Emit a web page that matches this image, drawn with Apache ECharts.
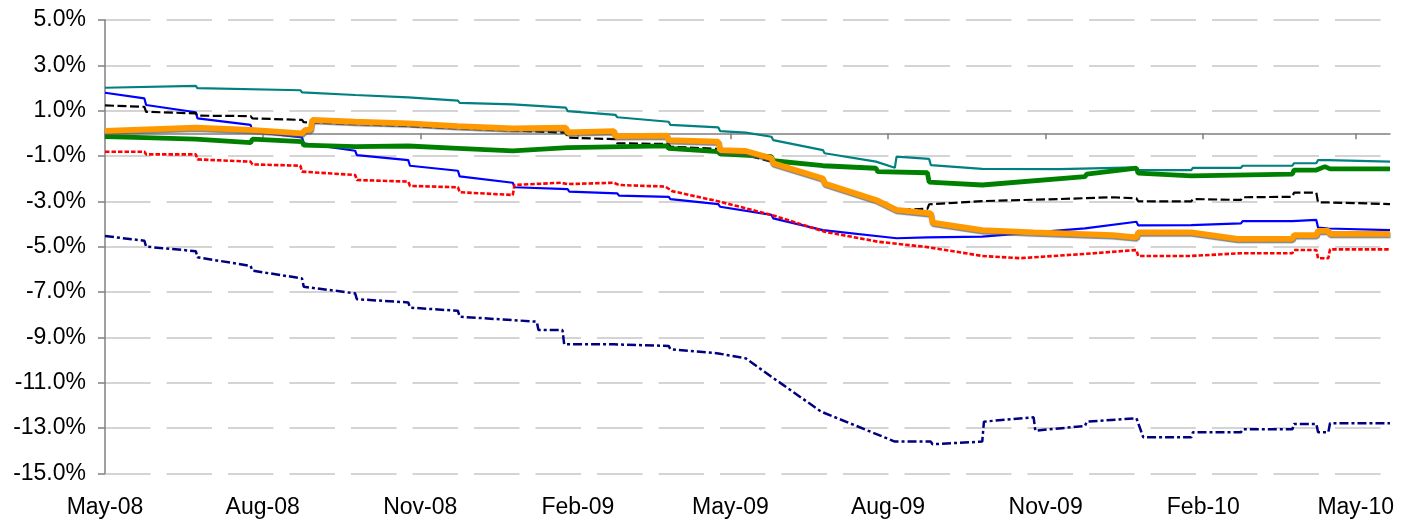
<!DOCTYPE html>
<html>
<head>
<meta charset="utf-8">
<script src="https://cdn.jsdelivr.net/npm/echarts@6/dist/echarts.min.js"></script>
<style>
  html, body { margin: 0; padding: 0; background: #fff; }
  #chart { width: 1413px; height: 522px; }
</style>
</head>
<body>
<div id="chart"></div>
<script>
// Quarterly tick positions on the date axis and their labels
const tickDates = ['2008-05-01', '2008-08-01', '2008-11-01', '2009-02-01', '2009-05-01',
                   '2009-08-01', '2009-11-01', '2010-02-01', '2010-05-01'];
const tickLabels = ['May-08', 'Aug-08', 'Nov-08', 'Feb-09', 'May-09',
                    'Aug-09', 'Nov-09', 'Feb-10', 'May-10'];
const axisStart = '2008-05-01';
const axisEnd = '2010-05-21';

// Each series: [date, value in %]
const tealLine = [
  ['2008-05-01', 2.01], ['2008-06-23', 2.09], ['2008-06-24', 1.99],
  ['2008-08-23', 1.90], ['2008-08-24', 1.81], ['2008-09-24', 1.69], ['2008-09-25', 1.65],
  ['2008-10-25', 1.59], ['2008-10-26', 1.53], ['2008-11-23', 1.44], ['2008-11-24', 1.34],
  ['2008-12-25', 1.28], ['2009-01-25', 1.13], ['2009-01-26', 0.98],
  ['2009-02-23', 0.81], ['2009-02-24', 0.71], ['2009-03-26', 0.51], ['2009-03-27', 0.37],
  ['2009-04-24', 0.26], ['2009-04-25', 0.10], ['2009-05-10', 0.03],
  ['2009-05-25', -0.15], ['2009-05-26', -0.30], ['2009-06-24', -0.74], ['2009-06-25', -0.88],
  ['2009-07-25', -1.25], ['2009-08-05', -1.52], ['2009-08-06', -1.03],
  ['2009-08-25', -1.13], ['2009-08-26', -1.40], ['2009-09-25', -1.57], ['2009-11-09', -1.58],
  ['2009-12-24', -1.50], ['2009-12-25', -1.62], ['2010-01-25', -1.62], ['2010-01-26', -1.52],
  ['2010-02-23', -1.52], ['2010-02-24', -1.43], ['2010-03-25', -1.43], ['2010-03-26', -1.32],
  ['2010-04-08', -1.32], ['2010-04-09', -1.18], ['2010-04-15', -1.18], ['2010-04-16', -1.25],
  ['2010-05-21', -1.25]
];

const blackLine = [
  ['2008-05-01', 1.23], ['2008-05-24', 1.17], ['2008-05-25', 0.95],
  ['2008-06-23', 0.88], ['2008-06-24', 0.78], ['2008-07-25', 0.76], ['2008-07-26', 0.66],
  ['2008-08-24', 0.59], ['2008-08-25', 0.49], ['2008-09-24', 0.41], ['2008-10-25', 0.32],
  ['2008-11-23', 0.22], ['2008-11-24', 0.15], ['2009-01-25', 0.03], ['2009-01-26', -0.19],
  ['2009-02-23', -0.26], ['2009-02-24', -0.44], ['2009-03-26', -0.47], ['2009-03-27', -0.59],
  ['2009-04-24', -0.69], ['2009-04-28', -0.91], ['2009-05-10', -0.96],
  ['2009-05-25', -1.25], ['2009-05-26', -1.35], ['2009-06-24', -2.06], ['2009-06-25', -2.20],
  ['2009-07-25', -2.96], ['2009-08-05', -3.38], ['2009-08-24', -3.33], ['2009-08-25', -3.13],
  ['2009-09-25', -2.99], ['2009-11-09', -2.90], ['2009-12-10', -2.82], ['2009-12-24', -2.87],
  ['2009-12-25', -3.00], ['2010-01-25', -3.00], ['2010-01-26', -2.90], ['2010-02-23', -2.94],
  ['2010-02-24', -2.82], ['2010-03-25', -2.80], ['2010-03-26', -2.62], ['2010-04-08', -2.62],
  ['2010-04-09', -3.05], ['2010-04-15', -3.05], ['2010-04-16', -3.12], ['2010-05-21', -3.12]
];

const blueLine = [
  ['2008-05-01', 1.79], ['2008-05-24', 1.54], ['2008-05-25', 1.25],
  ['2008-06-23', 0.93], ['2008-06-24', 0.66], ['2008-07-25', 0.37], ['2008-07-26', 0.07],
  ['2008-08-24', -0.18], ['2008-08-25', -0.44], ['2008-09-24', -0.77], ['2008-09-25', -0.96],
  ['2008-10-25', -1.18], ['2008-10-26', -1.43], ['2008-11-23', -1.65], ['2008-11-24', -1.90],
  ['2008-12-25', -2.18], ['2008-12-26', -2.38], ['2009-01-26', -2.46], ['2009-01-27', -2.57],
  ['2009-02-24', -2.65], ['2009-02-25', -2.75], ['2009-03-26', -2.80], ['2009-03-27', -2.90],
  ['2009-04-24', -3.12], ['2009-04-25', -3.24], ['2009-05-25', -3.60], ['2009-05-26', -3.75],
  ['2009-06-24', -4.27], ['2009-08-06', -4.63], ['2009-08-24', -4.59], ['2009-08-25', -4.63],
  ['2009-09-25', -4.56], ['2009-11-24', -4.19], ['2009-12-24', -3.90], ['2009-12-25', -4.06],
  ['2010-01-25', -4.05], ['2010-01-26', -3.97], ['2010-02-23', -3.97], ['2010-02-24', -3.87],
  ['2010-03-25', -3.87], ['2010-03-26', -3.79], ['2010-04-08', -3.82], ['2010-04-09', -4.16],
  ['2010-04-15', -4.20], ['2010-04-16', -4.27], ['2010-05-21', -4.27]
];

const redLine = [
  ['2008-05-01', -0.81], ['2008-05-24', -0.81], ['2008-05-25', -0.93],
  ['2008-06-23', -0.93], ['2008-06-24', -1.15], ['2008-07-25', -1.25], ['2008-07-26', -1.37],
  ['2008-08-23', -1.43], ['2008-08-24', -1.69], ['2008-09-24', -1.84], ['2008-09-25', -2.06],
  ['2008-10-25', -2.13], ['2008-10-26', -2.32], ['2008-11-23', -2.38], ['2008-11-24', -2.60],
  ['2008-12-25', -2.72], ['2008-12-26', -2.28], ['2009-01-22', -2.18], ['2009-01-26', -2.24],
  ['2009-02-22', -2.18], ['2009-02-25', -2.28], ['2009-03-24', -2.35], ['2009-03-28', -2.55],
  ['2009-04-25', -3.02], ['2009-05-25', -3.60], ['2009-06-25', -4.34], ['2009-07-26', -4.78],
  ['2009-08-24', -5.02], ['2009-09-25', -5.41], ['2009-10-17', -5.51], ['2009-11-24', -5.32],
  ['2009-12-24', -5.15], ['2009-12-25', -5.41], ['2010-01-25', -5.41], ['2010-01-26', -5.34],
  ['2010-02-23', -5.29], ['2010-03-25', -5.29], ['2010-03-26', -5.15], ['2010-04-08', -5.15],
  ['2010-04-09', -5.51], ['2010-04-15', -5.51], ['2010-04-16', -5.12], ['2010-05-21', -5.12]
];

const navyLine = [
  ['2008-05-01', -4.53], ['2008-05-24', -4.74], ['2008-05-25', -5.00],
  ['2008-06-23', -5.20], ['2008-06-24', -5.47], ['2008-07-25', -5.85], ['2008-07-26', -6.06],
  ['2008-08-24', -6.40], ['2008-08-25', -6.77], ['2008-09-24', -7.06], ['2008-09-25', -7.32],
  ['2008-10-25', -7.46], ['2008-10-26', -7.69], ['2008-11-23', -7.83], ['2008-11-24', -8.09],
  ['2009-01-08', -8.31], ['2009-01-09', -8.68], ['2009-01-23', -8.68], ['2009-01-24', -9.31],
  ['2009-02-22', -9.31], ['2009-02-23', -9.38], ['2009-03-26', -9.38], ['2009-03-27', -9.53],
  ['2009-04-24', -9.71], ['2009-05-10', -9.93], ['2009-05-25', -10.74], ['2009-06-23', -12.28],
  ['2009-08-05', -13.60], ['2009-08-26', -13.60], ['2009-08-27', -13.72], ['2009-09-25', -13.60],
  ['2009-09-26', -12.72], ['2009-10-25', -12.53], ['2009-10-26', -13.12], ['2009-11-24', -12.91],
  ['2009-11-25', -12.72], ['2009-12-24', -12.57], ['2009-12-28', -13.41], ['2010-01-25', -13.41],
  ['2010-01-26', -13.19], ['2010-02-23', -13.19], ['2010-02-24', -13.06], ['2010-03-25', -13.06],
  ['2010-03-26', -12.82], ['2010-04-08', -12.82], ['2010-04-09', -13.19], ['2010-04-15', -13.19],
  ['2010-04-16', -12.79], ['2010-05-21', -12.79]
];

const greenLine = [
  ['2008-05-01', -0.15], ['2008-05-24', -0.19], ['2008-06-23', -0.26], ['2008-06-24', -0.34],
  ['2008-07-25', -0.41], ['2008-07-26', -0.26], ['2008-08-24', -0.37], ['2008-08-25', -0.52],
  ['2008-09-24', -0.59], ['2008-09-25', -0.52], ['2008-10-25', -0.56], ['2008-10-26', -0.62],
  ['2008-11-23', -0.66], ['2008-11-24', -0.74], ['2008-12-25', -0.77], ['2008-12-26', -0.69],
  ['2009-01-26', -0.63], ['2009-01-27', -0.71], ['2009-03-25', -0.55], ['2009-03-26', -0.66],
  ['2009-04-24', -0.81], ['2009-04-25', -0.91], ['2009-05-25', -1.03], ['2009-05-26', -1.21],
  ['2009-06-24', -1.43], ['2009-07-25', -1.54], ['2009-07-26', -1.69], ['2009-08-24', -1.74],
  ['2009-08-25', -2.15], ['2009-09-25', -2.28], ['2009-11-24', -1.91], ['2009-11-25', -1.80],
  ['2009-12-24', -1.54], ['2009-12-25', -1.76], ['2010-01-25', -1.88], ['2010-01-26', -1.80],
  ['2010-03-25', -1.80], ['2010-03-26', -1.62], ['2010-04-08', -1.62], ['2010-04-13', -1.47],
  ['2010-04-16', -1.57], ['2010-05-21', -1.57]
];

const orangeLine = [
  ['2008-05-01', 0.11], ['2008-06-23', 0.25], ['2008-06-24', 0.20], ['2008-07-25', 0.15],
  ['2008-07-26', 0.10], ['2008-08-24', 0.00], ['2008-08-26', 0.15], ['2008-08-29', 0.15],
  ['2008-08-30', 0.59], ['2008-09-24', 0.51], ['2008-09-25', 0.47], ['2008-10-25', 0.44],
  ['2008-11-23', 0.32], ['2008-12-25', 0.22], ['2009-01-25', 0.25], ['2009-01-26', 0.04],
  ['2009-02-22', 0.10], ['2009-02-23', -0.12], ['2009-03-25', -0.10], ['2009-03-26', -0.30],
  ['2009-04-24', -0.37], ['2009-04-25', -0.74], ['2009-05-10', -0.78], ['2009-05-25', -1.10],
  ['2009-05-26', -1.32], ['2009-06-24', -1.99], ['2009-06-25', -2.21], ['2009-07-25', -2.94],
  ['2009-08-06', -3.38], ['2009-08-26', -3.53], ['2009-08-27', -3.94], ['2009-09-25', -4.27],
  ['2009-10-25', -4.37], ['2009-12-10', -4.49], ['2009-12-11', -4.56], ['2009-12-24', -4.59],
  ['2009-12-25', -4.37], ['2010-01-25', -4.37], ['2010-02-21', -4.66], ['2010-03-25', -4.66],
  ['2010-03-26', -4.49], ['2010-04-08', -4.49], ['2010-04-09', -4.30], ['2010-04-15', -4.30],
  ['2010-04-16', -4.44], ['2010-05-21', -4.44]
];

function toTime(s) {
  const p = s.split('-').map(Number);
  return Date.UTC(p[0], p[1] - 1, p[2]);
}
function toPoints(rows) {
  return rows.map(r => [toTime(r[0]), r[1]]);
}

const tickTimes = tickDates.map(toTime);
const fontFamily = '"Liberation Sans", Arial, sans-serif';

function lineSeries(name, rows, style, z) {
  return {
    name: name,
    type: 'line',
    xAxisIndex: 0,
    yAxisIndex: 0,
    data: toPoints(rows),
    symbol: 'none',
    showSymbol: false,
    z: z,
    lineStyle: style
  };
}

const chart = echarts.init(document.getElementById('chart'), null, { renderer: 'canvas' });

chart.setOption({
  animation: false,
  backgroundColor: '#ffffff',
  grid: { left: 105, right: 23, top: 20, bottom: 48.7, containLabel: false, outerBoundsMode: 'none' },
  xAxis: [
    {
      // date scale (ms) whose line sits on the 0% level, with quarterly ticks
      type: 'value',
      min: toTime(axisStart),
      max: toTime(axisEnd),
      axisLine: { show: true, onZero: true, lineStyle: { color: '#808080', width: 1.5 } },
      axisTick: { show: true, length: 6, customValues: tickTimes, lineStyle: { color: '#808080', width: 1.5 } },
      axisLabel: { show: false, customValues: tickTimes },
      splitLine: { show: false }
    },
    {
      // date labels along the bottom edge
      type: 'value',
      position: 'bottom',
      min: toTime(axisStart),
      max: toTime(axisEnd),
      axisLine: { show: false, onZero: false },
      axisTick: { show: false },
      splitLine: { show: false },
      axisLabel: {
        show: true,
        customValues: tickTimes,
        margin: 23,
        color: '#000',
        fontSize: 23,
        fontFamily: fontFamily,
        hideOverlap: false,
        formatter: function (v) {
          const i = tickTimes.indexOf(v);
          return i >= 0 ? tickLabels[i] : '';
        }
      }
    }
  ],
  yAxis: {
    type: 'value',
    min: -15,
    max: 5,
    interval: 2,
    axisLine: { show: true, lineStyle: { color: '#808080', width: 1.5 } },
    axisTick: { show: true, length: 7, lineStyle: { color: '#808080', width: 1.5 } },
    axisLabel: {
      margin: 19,
      color: '#000',
      fontSize: 23,
      fontFamily: fontFamily,
      formatter: v => v.toFixed(1) + '%'
    },
    splitLine: {
      show: true,
      lineStyle: { color: '#c6c6c6', width: 1.5, type: [45.5, 16] }
    }
  },
  series: [
    lineSeries('navy', navyLine, { color: '#000080', width: 2.5, type: [9, 3, 3, 3] }, 2),
    lineSeries('blue', blueLine, { color: '#0000ff', width: 2.2 }, 3),
    lineSeries('red', redLine, { color: '#ff0000', width: 2.6, type: [4.5, 2] }, 4),
    lineSeries('teal', tealLine, { color: '#008080', width: 2.2 }, 5),
    lineSeries('black', blackLine, { color: '#000000', width: 2.2, type: [9, 3.5] }, 6),
    lineSeries('green', greenLine, { color: '#008000', width: 4.8 }, 7),
    lineSeries('orange', orangeLine, {
      color: '#ff9900', width: 5.8,
      shadowColor: 'rgba(90,90,90,0.75)', shadowBlur: 1, shadowOffsetX: 0.5, shadowOffsetY: 1.5
    }, 8)
  ]
});
</script>
</body>
</html>
